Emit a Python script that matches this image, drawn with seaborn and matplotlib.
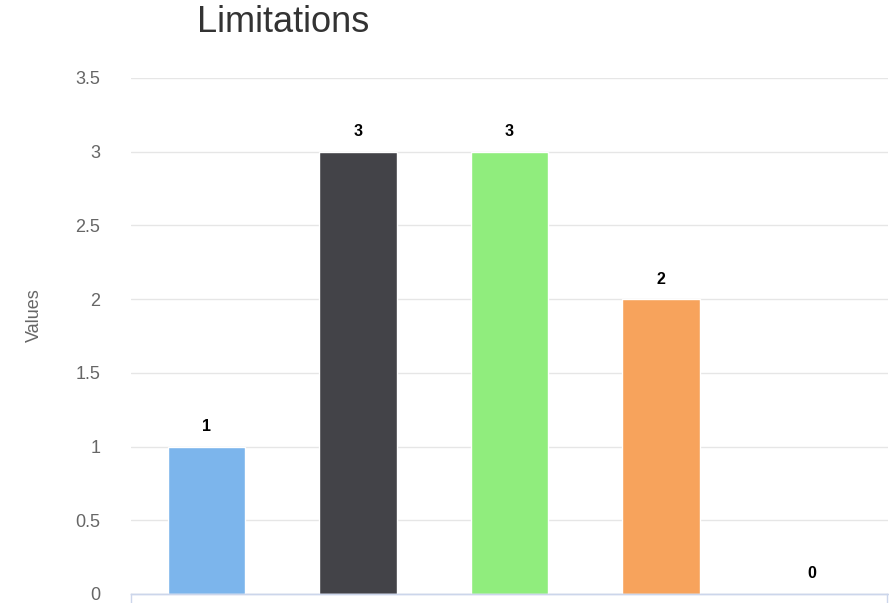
import matplotlib
matplotlib.use("Agg")
import matplotlib.pyplot as plt
import seaborn as sns
import pandas as pd

categories = ["Limitation 1", "Limitation 2", "Limitation 3", "Limitation 4", "Limitation 5"]
values = [1, 3, 3, 2, 0]
colors = ["#7cb5ec", "#434348", "#90ed7d", "#f7a35c", "#8085e9"]
yticks = [0, 0.5, 1, 1.5, 2, 2.5, 3, 3.5]
ytick_labels = ["0", "0.5", "1", "1.5", "2", "2.5", "3", "3.5"]

sns.set_theme(style="white")
plt.rcParams["font.family"] = ["Liberation Sans", "DejaVu Sans"]

df = pd.DataFrame({"category": categories, "value": values})

fig = plt.figure(figsize=(8.89, 6.03), dpi=100)
left = 131 / 889
right = 888 / 889
bottom = 9 / 603
top = 1 - 78 / 603
ax = fig.add_axes([left, bottom, right - left, top - bottom])

sns.barplot(data=df, x="category", y="value", hue="category", palette=colors,
            legend=False, width=0.51, ax=ax, saturation=1)

ax.set_xlim(-0.5, 4.5)
ax.set_ylim(0, 3.5)
ax.set_yticks(yticks)
ax.set_yticklabels(ytick_labels)
ax.tick_params(axis="y", labelsize=13, colors="#666666", length=0, pad=22)
ax.set_xticks([])
ax.set_xlabel("")
ax.set_ylabel("Values", fontsize=13, color="#666666")
ax.yaxis.set_label_coords(-0.117, 0.54)
ax.grid(axis="y", color="#e6e6e6", linewidth=1)
ax.set_axisbelow(True)
for s in ["left", "right", "top"]:
    ax.spines[s].set_visible(False)
ax.spines["bottom"].set_color("#ccd6eb")
ax.spines["bottom"].set_linewidth(1)

for p, v in zip(ax.patches, values):
    ax.annotate(str(v), (p.get_x() + p.get_width() / 2, p.get_height()),
                xytext=(0, 9), textcoords="offset points", ha="center", va="bottom",
                fontsize=11.5, fontweight="bold", color="#000000")

# x-axis frame below plot (cut off in reference)
ax2 = fig.add_axes([left, -0.05, (887 - 131) / 889, 0.05 + bottom])
ax2.set_xticks([])
ax2.set_yticks([])
ax2.patch.set_alpha(0)
for s in ax2.spines.values():
    s.set_color("#ccd6eb")
    s.set_linewidth(1)

fig.text(283 / 889, 1 - 22 / 603, "Limitations", ha="center", va="center",
         fontsize=26, color="#333333")

fig.savefig("out.png", dpi=100, facecolor="white")
